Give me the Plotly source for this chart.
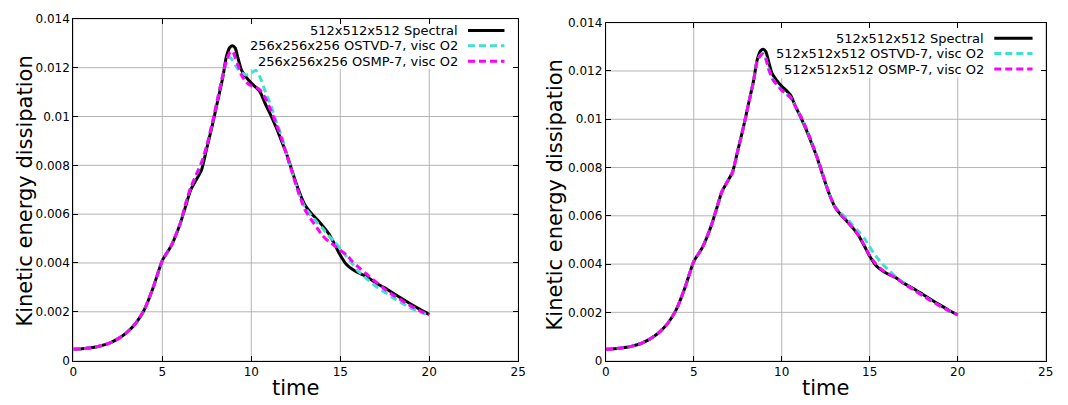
import plotly.graph_objects as go

# ---------------- data ----------------
time = [0, 0.5, 1, 1.5, 2, 2.5, 3, 3.5, 4, 4.5,
        5, 5.5, 6, 6.3, 6.6, 6.9, 7.2, 7.5, 7.8, 8.1,
        8.4, 8.6, 8.8, 8.95, 9.1, 9.25, 9.45, 9.7, 10.0, 10.25,
        10.5, 10.8, 11.1, 11.4, 11.7, 12.0, 12.3, 12.65, 13.0, 13.35,
        13.7, 14.0, 14.35, 14.7, 15.0, 15.35, 15.7, 16.0, 16.5, 17.0,
        17.5, 18.0, 18.5, 19.0, 19.5, 20.0]

spectral_512 = [0.00047, 0.00049, 0.00053, 0.0006, 0.00071, 0.00089, 0.00115, 0.00152, 0.0021, 0.00302,
                0.0041, 0.0047, 0.0056, 0.0063, 0.0070, 0.0074, 0.0078, 0.0087, 0.0096, 0.0106,
                0.0116, 0.01245, 0.01284, 0.0129, 0.0128, 0.0124, 0.0119, 0.01162, 0.01137, 0.0112,
                0.0110, 0.0105, 0.01005, 0.00955, 0.0090, 0.00843, 0.00775, 0.0070, 0.0064, 0.00605,
                0.00578, 0.00553, 0.0052, 0.00474, 0.00432, 0.00394, 0.00373, 0.0036, 0.00343, 0.00318,
                0.00298, 0.00275, 0.00252, 0.0023, 0.00209, 0.00189]

ostvd_256 = [0.00047, 0.00049, 0.00053, 0.0006, 0.00071, 0.00089, 0.00115, 0.00152, 0.0021, 0.00302,
             0.0041, 0.0047, 0.0056, 0.0064, 0.0071, 0.0076, 0.0081, 0.0088, 0.0097, 0.0107,
             0.0117, 0.0122, 0.01243, 0.0123, 0.0121, 0.01195, 0.0118, 0.0117, 0.01178, 0.0119,
             0.0116, 0.0110, 0.01045, 0.0098, 0.0092, 0.0084, 0.0077, 0.0069, 0.0063, 0.00596,
             0.00566, 0.00542, 0.00512, 0.00485, 0.00458, 0.00426, 0.00395, 0.00367, 0.00334, 0.00305,
             0.0028, 0.00256, 0.00234, 0.00214, 0.00199, 0.00186]

osmp_256 = [0.00047, 0.00049, 0.00053, 0.0006, 0.00071, 0.00089, 0.00115, 0.00152, 0.0021, 0.00302,
            0.0041, 0.0047, 0.0056, 0.0064, 0.0071, 0.0076, 0.0081, 0.0088, 0.0097, 0.0107,
            0.0117, 0.0123, 0.01262, 0.01268, 0.0124, 0.0121, 0.0117, 0.01142, 0.01126, 0.0112,
            0.01108, 0.01075, 0.01025, 0.0097, 0.0091, 0.0084, 0.0077, 0.0069, 0.0062, 0.0058,
            0.00543, 0.00512, 0.00488, 0.0047, 0.00452, 0.00433, 0.00405, 0.00384, 0.00353, 0.00322,
            0.00293, 0.00267, 0.00244, 0.00222, 0.00203, 0.00188]

ostvd_512 = [0.00047, 0.00049, 0.00053, 0.0006, 0.00071, 0.00089, 0.00115, 0.00152, 0.0021, 0.00302,
             0.0041, 0.0047, 0.0056, 0.0063, 0.0070, 0.0074, 0.0078, 0.0087, 0.0096, 0.0106,
             0.0116, 0.0124, 0.01268, 0.01272, 0.0125, 0.0121, 0.0117, 0.01145, 0.0112, 0.01105,
             0.0109, 0.0105, 0.01008, 0.0096, 0.00905, 0.00845, 0.0078, 0.0070, 0.0064, 0.00612,
             0.00588, 0.00564, 0.00536, 0.00506, 0.0047, 0.00433, 0.00402, 0.0038, 0.00346, 0.00318,
             0.00294, 0.00271, 0.00248, 0.00226, 0.00206, 0.00188]

osmp_512 = [0.00047, 0.00049, 0.00053, 0.0006, 0.00071, 0.00089, 0.00115, 0.00152, 0.0021, 0.00302,
            0.0041, 0.0047, 0.0056, 0.0063, 0.0070, 0.0074, 0.0078, 0.0087, 0.0096, 0.0106,
            0.0116, 0.0124, 0.01265, 0.0127, 0.0125, 0.0121, 0.0117, 0.01145, 0.0112, 0.01105,
            0.0109, 0.0105, 0.0101, 0.0096, 0.00905, 0.00845, 0.0078, 0.0070, 0.0064, 0.00605,
            0.00578, 0.00553, 0.0052, 0.00476, 0.00434, 0.004, 0.00376, 0.00362, 0.00342, 0.00315,
            0.00293, 0.00269, 0.00247, 0.00226, 0.00206, 0.00189]

x_ticks = [0, 5, 10, 15, 20, 25]
y_ticks = [0, 0.002, 0.004, 0.006, 0.008, 0.010, 0.012, 0.014]
y_tick_labels = ["0", "0.002", "0.004", "0.006", "0.008", "0.01", "0.012", "0.014"]

left_names = ["512x512x512 Spectral", "256x256x256 OSTVD-7, visc O2", "256x256x256 OSMP-7, visc O2"]
right_names = ["512x512x512 Spectral", "512x512x512 OSTVD-7, visc O2", "512x512x512 OSMP-7, visc O2"]

# ---------------- styles / layout helpers ----------------
FONT = "DejaVu Sans"
BLACK = "#000000"
CYAN = "#40e0d0"
MAGENTA = "#ff00ff"
GRID = "#b4b4b4"
W, H = 1068, 405
OFF = 8  # default page margin of the html body


def px_x(x):
    return (x - OFF) / W


def px_y(y):
    return (H - (y - OFF)) / H


styles = [dict(color=BLACK, width=3, dash="solid"),
          dict(color=CYAN, width=3, dash="7px,4px"),
          dict(color=MAGENTA, width=3, dash="7px,4px")]

fig = go.Figure()
left_series = [spectral_512, ostvd_256, osmp_256]
right_series = [spectral_512, ostvd_512, osmp_512]
for vals, name, st in zip(left_series, left_names, styles):
    fig.add_trace(go.Scatter(x=time, y=vals, name=name, mode="lines",
                             line=dict(shape="spline", smoothing=0.6, **st),
                             xaxis="x", yaxis="y", showlegend=False, hoverinfo="skip"))
for vals, name, st in zip(right_series, right_names, styles):
    fig.add_trace(go.Scatter(x=time, y=vals, name=name, mode="lines",
                             line=dict(shape="spline", smoothing=0.6, **st),
                             xaxis="x2", yaxis="y2", showlegend=False, hoverinfo="skip"))

axis_common = dict(showgrid=False,
                   showline=True, linecolor="black", linewidth=1, mirror="ticks",
                   ticks="inside", ticklen=5, tickcolor="black", tickwidth=1,
                   zeroline=False, layer="above traces",
                   tickfont=dict(family=FONT, size=12, color="black"))

fig.update_layout(
    width=W, height=H,
    margin=dict(l=0, r=0, t=0, b=0),
    paper_bgcolor="white", plot_bgcolor="white",
    showlegend=False,
    font=dict(family=FONT, color="black"),
    xaxis=dict(domain=[px_x(70), px_x(520)], range=[0, 25], tickvals=x_ticks, anchor="y", **axis_common),
    yaxis=dict(domain=[px_y(366), px_y(12)], range=[0, 0.014], tickvals=y_ticks, ticktext=y_tick_labels,
               anchor="x", **axis_common),
    xaxis2=dict(domain=[px_x(608.5), px_x(1053.5)], range=[0, 25], tickvals=x_ticks, anchor="y2", **axis_common),
    yaxis2=dict(domain=[px_y(366), px_y(16)], range=[0, 0.014], tickvals=y_ticks, ticktext=y_tick_labels,
                anchor="x2", **axis_common),
)

shapes = []
annotations = []


def add_grid(xa, ya):
    # grid lines at the tick positions (drawn as shapes so the key box can mask them)
    for tv in x_ticks:
        shapes.append(dict(type="line", xref=xa, yref=ya + " domain", x0=tv, x1=tv, y0=0, y1=1,
                           line=dict(color=GRID, width=1), layer="below"))
    for tv in y_ticks:
        shapes.append(dict(type="line", xref=xa + " domain", yref=ya, x0=0, x1=1, y0=tv, y1=tv,
                           line=dict(color=GRID, width=1), layer="below"))


def add_key(xa, ya, box_x0, box_y0, text_x, line_x0, line_x1, rows_y, names):
    xref, yref = xa + " domain", ya + " domain"
    shapes.append(dict(type="rect", xref=xref, yref=yref, x0=box_x0, x1=0.998, y0=box_y0, y1=0.998,
                       fillcolor="white", line=dict(width=0), layer="below"))
    for ry, name, st in zip(rows_y, names, styles):
        annotations.append(dict(xref=xref, yref=yref, x=text_x, y=ry, text=name, showarrow=False,
                                xanchor="right", yanchor="middle",
                                font=dict(family=FONT, size=13, color="black")))
        shapes.append(dict(type="line", xref=xref, yref=yref, x0=line_x0, x1=line_x1, y0=ry, y1=ry,
                           line=dict(color=st["color"], width=3, dash=st["dash"]), layer="above"))


add_grid("x", "y")
add_grid("x2", "y2")
add_key("x", "y", 0.351, 0.853, 0.869, 0.887, 0.969, [0.966, 0.921, 0.876], left_names)
add_key("x2", "y2", 0.344, 0.837, 0.864, 0.883, 0.970, [0.954, 0.909, 0.863], right_names)

# axis titles
for xc in [295, 831]:
    annotations.append(dict(xref="paper", yref="paper", x=px_x(xc), y=px_y(394), text="time",
                            showarrow=False, xanchor="center", yanchor="middle",
                            font=dict(family=FONT, size=21, color="black")))
for xc, yc in [(21, 190), (557, 194)]:
    annotations.append(dict(xref="paper", yref="paper", x=px_x(xc), y=px_y(yc),
                            text="Kinetic energy dissipation",
                            showarrow=False, xanchor="center", yanchor="middle", textangle=-90,
                            font=dict(family=FONT, size=21, color="black")))

fig.update_layout(shapes=shapes, annotations=annotations)
fig.write_html("out.html", config={"displayModeBar": False})
